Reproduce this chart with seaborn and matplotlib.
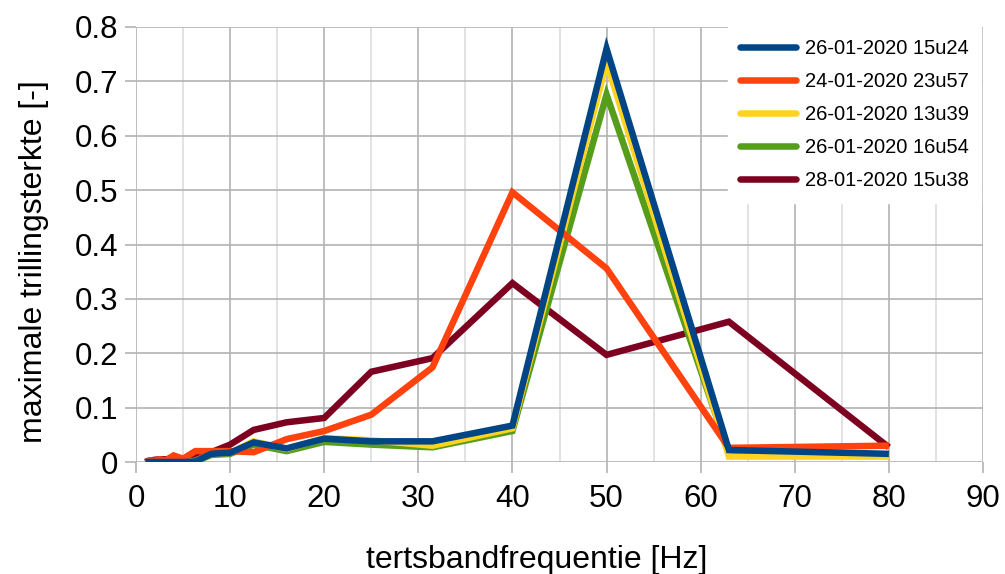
import matplotlib
matplotlib.use("Agg")
import matplotlib.pyplot as plt
from matplotlib.ticker import MultipleLocator, FuncFormatter
from matplotlib.lines import Line2D
import seaborn as sns
import pandas as pd

# Third-octave band centre frequencies [Hz]
freq = [1, 1.25, 1.6, 2, 2.5, 3.15, 4, 5, 6.3, 8, 10, 12.5, 16, 20, 25, 31.5, 40, 50, 63, 80]

labels = ["26-01-2020 15u24", "24-01-2020 23u57", "26-01-2020 13u39",
          "26-01-2020 16u54", "28-01-2020 15u38"]
colors = ["#004586", "#ff420e", "#ffd320", "#579d1c", "#7e0021"]

m_1524 = [0, 0, 0, 0, 0, 0, 0, 0, 0.001, 0.015, 0.017, 0.036, 0.025, 0.043, 0.038, 0.038, 0.067, 0.760, 0.022, 0.015]
m_2357 = [0, 0, 0.003, 0.002, 0.005, 0.003, 0.012, 0.006, 0.020, 0.020, 0.020, 0.018, 0.042, 0.057, 0.087, 0.174, 0.496, 0.356, 0.026, 0.030]
m_1339 = [0, 0, 0, 0, 0, 0, 0, 0, 0.002, 0.015, 0.017, 0.038, 0.024, 0.044, 0.040, 0.030, 0.062, 0.735, 0.010, 0.010]
m_1654 = [0, 0, 0, 0, 0, 0, 0, 0, 0.001, 0.013, 0.015, 0.032, 0.020, 0.037, 0.032, 0.027, 0.057, 0.676, 0.016, 0.012]
m_1538 = [0, 0.002, 0.003, 0.004, 0.005, 0.005, 0.006, 0.006, 0.010, 0.018, 0.032, 0.059, 0.073, 0.081, 0.166, 0.191, 0.329, 0.197, 0.258, 0.027]

series = [m_1524, m_2357, m_1339, m_1654, m_1538]

rows = []
for lab, vals in zip(labels, series):
    for f, v in zip(freq, vals):
        rows.append({"f": f, "v": v, "meting": lab})
df = pd.DataFrame(rows)

sns.set_theme(style="white")
plt.rcParams["font.family"] = ["Liberation Sans", "DejaVu Sans"]
plt.rcParams["text.color"] = "black"
plt.rcParams["axes.labelcolor"] = "black"

LW = 4.7

fig = plt.figure(figsize=(10.05, 5.74), dpi=100)
ax = fig.add_axes([136 / 1005, 1 - 462 / 574, (983 - 136) / 1005, (462 - 27) / 574])

# draw last series first so the first one lies on top
draw_order = labels[::-1]
sns.lineplot(data=df, x="f", y="v", hue="meting", hue_order=draw_order,
             palette=dict(zip(labels, colors)), linewidth=LW, ax=ax,
             legend=False, solid_joinstyle="miter", solid_capstyle="butt")

ax.set_xlim(0, 90)
ax.set_ylim(0, 0.8)
ax.xaxis.set_major_locator(MultipleLocator(10))
ax.xaxis.set_minor_locator(MultipleLocator(5))
ax.yaxis.set_major_locator(MultipleLocator(0.1))
ax.yaxis.set_major_formatter(FuncFormatter(lambda v, p: f"{v:g}"))

ax.grid(which="major", axis="both", color="#b3b3b3", linewidth=1.2)
ax.grid(which="minor", axis="x", color="#dddddd", linewidth=1.2)
ax.set_axisbelow(True)
for s in ax.spines.values():
    s.set_visible(False)

ax.tick_params(axis="both", which="major", labelsize=22.5, color="#b3b3b3",
               labelcolor="black", width=1.2, length=8, direction="out",
               bottom=True, left=True)
ax.tick_params(axis="y", which="major", pad=5)
ax.tick_params(axis="x", which="major", pad=8)
ax.tick_params(axis="x", which="minor", length=0)

ax.set_xlabel("tertsbandfrequentie [Hz]", fontsize=23, labelpad=22)
ax.set_ylabel("maximale trillingsterkte [-]", fontsize=23, labelpad=18)
ax.xaxis.label.set_x(0.473)
ax.yaxis.label.set_y(0.46)

handles = [Line2D([0], [0], color=c, linewidth=LW) for c in colors]
leg = ax.legend(handles, labels, loc="upper right", bbox_to_anchor=(0.998, 1.0),
                borderaxespad=0, fontsize=14.5, handlelength=2.8, handletextpad=0.45,
                labelspacing=0.7, frameon=True, fancybox=False, borderpad=0.6)
leg.get_frame().set_facecolor("white")
leg.get_frame().set_edgecolor("white")
leg.get_frame().set_alpha(1)

fig.savefig("out.png", dpi=100, facecolor="white")
